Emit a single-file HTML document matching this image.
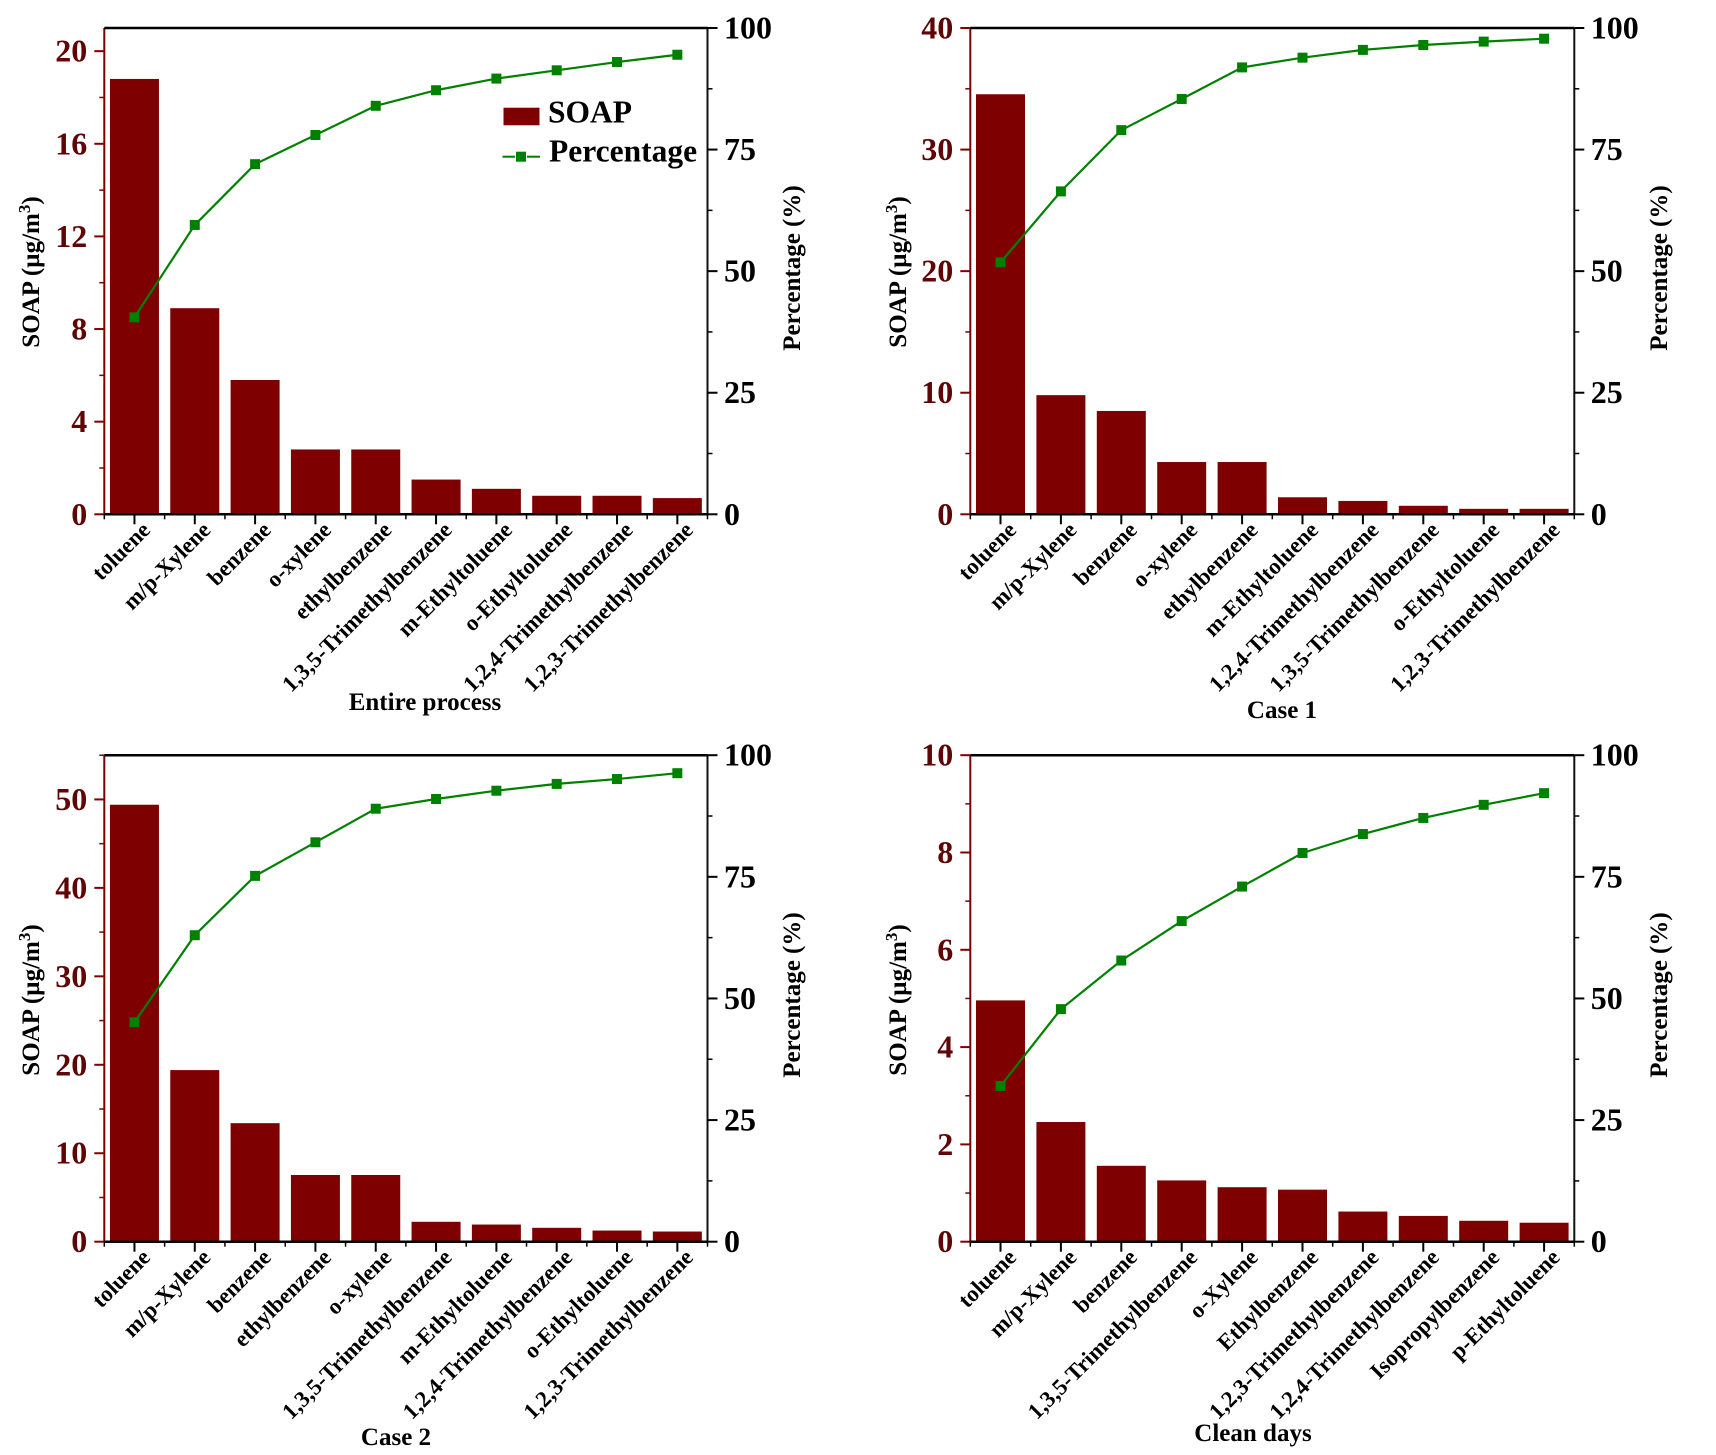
<!DOCTYPE html>
<html lang="en">
<head>
<meta charset="utf-8">
<title>SOAP and cumulative percentage by species</title>
<style>
html,body{margin:0;padding:0;background:#fff;}
svg{display:block;font-family:"Liberation Serif",serif;font-weight:bold;}
</style>
</head>
<body>
<svg id="figure" xmlns="http://www.w3.org/2000/svg" width="1716" height="1455" viewBox="0 0 1716 1455">
  <rect width="1716" height="1455" fill="#fff"/>

  <g id="panel-entire"></g>
  <g id="panel-case1"></g>
  <g id="panel-case2"></g>
  <g id="panel-clean"></g>

  <text transform="translate(39 272) rotate(-90)" text-anchor="middle" font-size="25">SOAP (µg/m<tspan font-size="17" dy="-9">3</tspan><tspan dy="9">)</tspan></text>
  <text transform="translate(800 268) rotate(-90)" text-anchor="middle" font-size="25">Percentage (%)</text>
  <text x="425" y="710" text-anchor="middle" font-size="25">Entire process</text>

  <text transform="translate(906 272) rotate(-90)" text-anchor="middle" font-size="25">SOAP (µg/m<tspan font-size="17" dy="-9">3</tspan><tspan dy="9">)</tspan></text>
  <text transform="translate(1667 268) rotate(-90)" text-anchor="middle" font-size="25">Percentage (%)</text>
  <text x="1282" y="718" text-anchor="middle" font-size="25">Case 1</text>

  <text transform="translate(39 1000) rotate(-90)" text-anchor="middle" font-size="25">SOAP (µg/m<tspan font-size="17" dy="-9">3</tspan><tspan dy="9">)</tspan></text>
  <text transform="translate(800 995) rotate(-90)" text-anchor="middle" font-size="25">Percentage (%)</text>
  <text x="396" y="1445" text-anchor="middle" font-size="25">Case 2</text>

  <text transform="translate(906 1000) rotate(-90)" text-anchor="middle" font-size="25">SOAP (µg/m<tspan font-size="17" dy="-9">3</tspan><tspan dy="9">)</tspan></text>
  <text transform="translate(1667 995) rotate(-90)" text-anchor="middle" font-size="25">Percentage (%)</text>
  <text x="1253" y="1441" text-anchor="middle" font-size="25">Clean days</text>

  <g>
    <rect x="503.5" y="107.7" width="36" height="17.6" fill="#7f0000"/>
    <text x="548" y="122.7" font-size="31.5">SOAP</text>
    <line x1="502.5" y1="156.7" x2="515" y2="156.7" stroke="#008000" stroke-width="2"/>
    <line x1="527" y1="156.7" x2="540" y2="156.7" stroke="#008000" stroke-width="2"/>
    <rect x="516" y="151.7" width="10" height="10" fill="#008000"/>
    <text x="549" y="161.7" font-size="31.5">Percentage</text>
  </g>
</svg>

<script>
const categoriesEntire = ["toluene","m/p-Xylene","benzene","o-xylene","ethylbenzene","1,3,5-Trimethylbenzene","m-Ethyltoluene","o-Ethyltoluene","1,2,4-Trimethylbenzene","1,2,3-Trimethylbenzene"];
const soapEntire = [18.8,8.9,5.8,2.8,2.8,1.5,1.1,0.8,0.8,0.7];
const percentEntire = [40.5,59.5,72,78,84,87.2,89.6,91.3,93,94.5];

const categoriesCase1 = ["toluene","m/p-Xylene","benzene","o-xylene","ethylbenzene","m-Ethyltoluene","1,2,4-Trimethylbenzene","1,3,5-Trimethylbenzene","o-Ethyltoluene","1,2,3-Trimethylbenzene"];
const soapCase1 = [34.55,9.8,8.5,4.3,4.3,1.4,1.1,0.7,0.45,0.45];
const percentCase1 = [51.8,66.4,79,85.4,91.9,93.9,95.5,96.5,97.2,97.8];

const categoriesCase2 = ["toluene","m/p-Xylene","benzene","ethylbenzene","o-xylene","1,3,5-Trimethylbenzene","m-Ethyltoluene","1,2,4-Trimethylbenzene","o-Ethyltoluene","1,2,3-Trimethylbenzene"];
const soapCase2 = [49.4,19.4,13.4,7.54,7.54,2.25,1.94,1.57,1.26,1.15];
const percentCase2 = [45.1,63,75.2,82.1,89,91,92.7,94.1,95.1,96.3];

const categoriesClean = ["toluene","m/p-Xylene","benzene","1,3,5-Trimethylbenzene","o-Xylene","Ethylbenzene","1,2,3-Trimethylbenzene","1,2,4-Trimethylbenzene","Isopropylbenzene","p-Ethyltoluene"];
const soapClean = [4.96,2.46,1.56,1.26,1.12,1.07,0.62,0.53,0.43,0.39];
const percentClean = [32,47.8,57.8,65.9,73,79.9,83.8,87.1,89.8,92.2];

const leftTicksEntire = [0,4,8,12,16,20];
const leftTicksCase1 = [0,10,20,30,40];
const leftTicksCase2 = [0,10,20,30,40,50];
const leftTicksClean = [0,2,4,6,8,10];
const rightTicks = [0,25,50,75,100];

const SVGNS = "http://www.w3.org/2000/svg";
const DARK_RED = "#7f0000";
const LABEL_RED = "#5f0505";
const GREEN = "#008000";

function make(parent, tag, attrs, text) {
  const node = document.createElementNS(SVGNS, tag);
  for (const key in attrs) node.setAttribute(key, attrs[key]);
  if (text !== undefined) node.textContent = text;
  parent.appendChild(node);
  return node;
}

function drawPanel(id, left, right, top, bottom, leftMax, minorStep, categories, soap, percent, leftTicks) {
  const root = document.getElementById(id);
  const n = categories.length;
  const xScale = i => left + (i + 0.5) * (right - left) / n;
  const yLeft = v => bottom - v / leftMax * (bottom - top);
  const yRight = v => bottom - v / 100 * (bottom - top);
  const barWidth = 49;

  soap.forEach((v, i) => {
    const bar = make(root, "rect", {x: xScale(i) - barWidth / 2, y: yLeft(v), width: barWidth, height: bottom - yLeft(v), fill: DARK_RED});
    
    
  });

  const axisLeft = make(root, "line", {x1: left, y1: top, x2: left, y2: bottom, stroke: DARK_RED, "stroke-width": 2});
  
  
  const axisRight = make(root, "line", {x1: right, y1: top, x2: right, y2: bottom, stroke: "#111", "stroke-width": 2});
  
  
  const axisTop = make(root, "line", {x1: left, y1: top, x2: right, y2: top, stroke: "#000", "stroke-width": 2.5});
  
  
  const axisBottom = make(root, "line", {x1: left, y1: bottom, x2: right, y2: bottom, stroke: "#000", "stroke-width": 2.5});
  
  

  leftTicks.forEach(v => {
    const tick = make(root, "line", {x1: left - 10, y1: yLeft(v), x2: left, y2: yLeft(v), stroke: DARK_RED, "stroke-width": 2});
    
    
    const label = make(root, "text", {x: left - 17, y: yLeft(v) + 10.5, "text-anchor": "end", "font-size": 32, fill: LABEL_RED}, String(v));
    
    
  });
  for (let v = minorStep; v <= leftMax + 1e-9; v += 2 * minorStep) {
    const tick = make(root, "line", {x1: left - 5, y1: yLeft(v), x2: left, y2: yLeft(v), stroke: DARK_RED, "stroke-width": 1.5});
    
    
  }

  rightTicks.forEach(v => {
    const tick = make(root, "line", {x1: right, y1: yRight(v), x2: right + 10, y2: yRight(v), stroke: "#000", "stroke-width": 2});
    
    
    const label = make(root, "text", {x: right + 16.5, y: yRight(v) + 10.5, "font-size": 32, fill: "#000"}, String(v));
    
    
  });
  for (let v = 12.5; v < 100; v += 25) {
    const tick = make(root, "line", {x1: right, y1: yRight(v), x2: right + 5, y2: yRight(v), stroke: "#000", "stroke-width": 1.5});
    
    
  }

  categories.forEach((name, i) => {
    const x = xScale(i);
    const tick = make(root, "line", {x1: x, y1: bottom, x2: x, y2: bottom + 10, stroke: "#000", "stroke-width": 2});
    
    
    const edge = x - (right - left) / n / 2;
    const minor = make(root, "line", {x1: edge, y1: bottom, x2: edge, y2: bottom + 5, stroke: "#000", "stroke-width": 1.5});
    
    
    const label = make(root, "text", {transform: `translate(${x + 17} ${bottom + 17}) rotate(-45)`, "text-anchor": "end", "font-size": 22.8, fill: "#000"}, name);
    
    
  });
  const lastMinor = make(root, "line", {x1: right, y1: bottom, x2: right, y2: bottom + 5, stroke: "#000", "stroke-width": 1.5});
  
  

  const points = percent.map((v, i) => xScale(i) + "," + yRight(v)).join(" ");
  const line = make(root, "polyline", {points: points, fill: "none", stroke: GREEN, "stroke-width": 2.2});
  
  
  percent.forEach((v, i) => {
    const marker = make(root, "rect", {x: xScale(i) - 5, y: yRight(v) - 5, width: 10, height: 10, fill: GREEN});
    
    
  });
}

drawPanel("panel-entire", 104.3, 707.5, 28, 514.3, 21, 2, categoriesEntire, soapEntire, percentEntire, leftTicksEntire);
drawPanel("panel-case1", 970.3, 1574.3, 28, 514.3, 40, 5, categoriesCase1, soapCase1, percentCase1, leftTicksCase1);
drawPanel("panel-case2", 104.3, 707.5, 755.2, 1241.7, 55, 5, categoriesCase2, soapCase2, percentCase2, leftTicksCase2);
drawPanel("panel-clean", 970.3, 1574.3, 755.2, 1241.7, 10, 1, categoriesClean, soapClean, percentClean, leftTicksClean);
</script>
</body>
</html>
